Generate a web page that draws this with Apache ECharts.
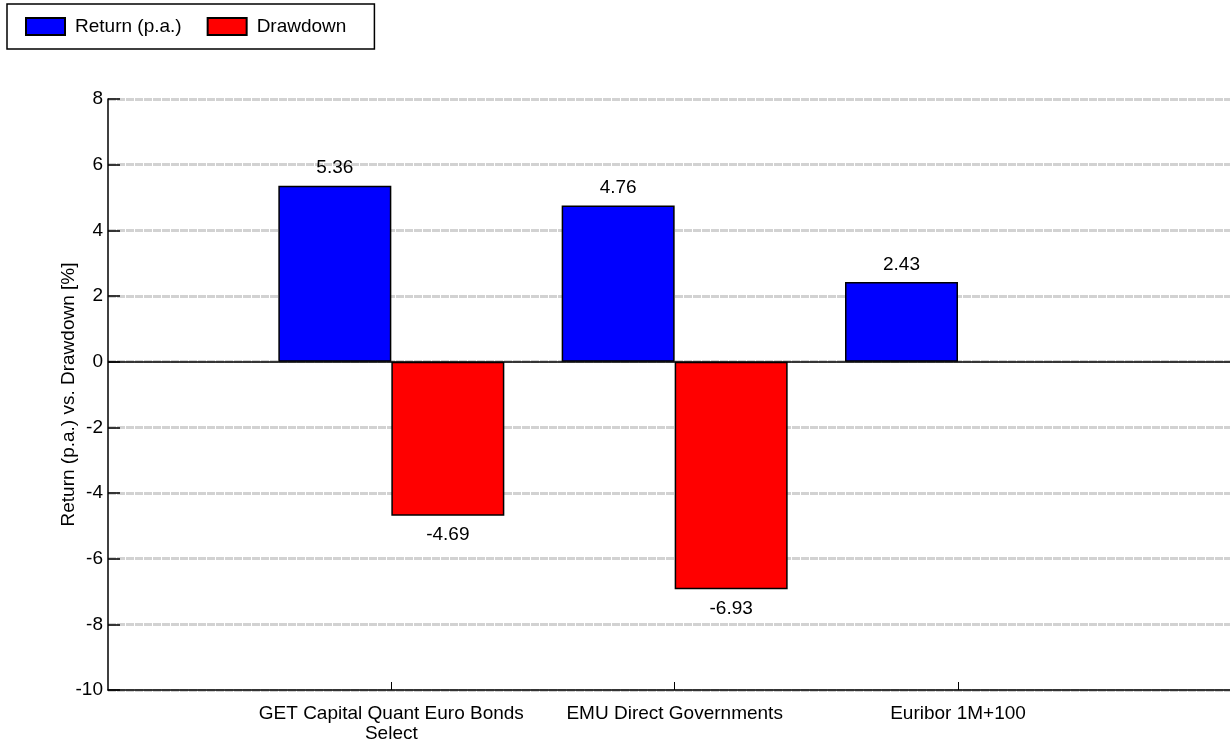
<!DOCTYPE html>
<html>
<head>
<meta charset="utf-8">
<script src="https://cdn.jsdelivr.net/npm/echarts@6/dist/echarts.min.js"></script>
<style>html,body{margin:0;padding:0;background:#fff}#c{width:1230px;height:744px}</style>
</head>
<body>
<div id="c"></div>
<script>
var categories = ['GET Capital Quant Euro Bonds\nSelect', 'EMU Direct Governments', 'Euribor 1M+100'];
var categoryPositions = [1, 2, 3];
var returnValues = [5.36, 4.76, 2.43];
var drawdownValues = [-4.69, -6.93, null];
var seriesNames = ['Return (p.a.)', 'Drawdown'];
var yTicks = [-10, -8, -6, -4, -2, 0, 2, 4, 6, 8];

var FONT = "'Liberation Sans', Arial, sans-serif";
var FS = 19;
var chart = echarts.init(document.getElementById('c'), null, {renderer: 'canvas'});

function pairs(vals) {
  return vals.map(function (v, i) { return [categoryPositions[i], v]; });
}

chart.setOption({
  animation: false,
  textStyle: {fontFamily: FONT},
  legend: {
    left: 7, top: 4,
    padding: [13, 28, 13, 18],
    borderColor: '#000', borderWidth: 1.5,
    icon: 'rect',
    itemWidth: 39, itemHeight: 17, itemGap: 25,
    textStyle: {fontFamily: FONT, fontSize: FS, color: '#000', padding: [0, 0, 0, 5]},
    data: seriesNames
  },
  grid: {left: 108, right: 0, top: 99, bottom: 54, containLabel: false},
  xAxis: {
    type: 'value', min: 0, max: 3.96,
    axisLine: {show: true, onZero: false, lineStyle: {color: '#000', width: 1.5}},
    axisTick: {show: true, inside: true, length: 8, customValues: categoryPositions, lineStyle: {color: '#000', width: 1}},
    axisLabel: {
      customValues: categoryPositions,
      margin: 14, fontSize: FS, color: '#000', fontFamily: FONT, lineHeight: 20,
      formatter: function (v) {
        var i = categoryPositions.indexOf(Math.round(v));
        return i >= 0 ? categories[i] : '';
      }
    },
    splitLine: {show: false}
  },
  yAxis: {
    type: 'value', min: -10, max: 8, interval: 2,
    name: 'Return (p.a.) vs. Drawdown [%]',
    nameLocation: 'middle', nameGap: 30, nameMoveOverlap: false,
    nameTextStyle: {fontSize: FS, color: '#000', fontFamily: FONT},
    axisLine: {show: true, onZero: false, lineStyle: {color: '#000', width: 1.5}},
    axisTick: {show: true, inside: true, length: 12, lineStyle: {color: '#000', width: 1.5}},
    axisLabel: {margin: 5, fontSize: FS, color: '#000', fontFamily: FONT,
      formatter: function (v) { return yTicks.indexOf(v) >= 0 ? String(v) : ''; }},
    splitLine: {show: true, lineStyle: {color: '#d2d2d2', width: 3, type: [8, 1]}}
  },
  series: [
    {
      name: seriesNames[0], type: 'bar',
      data: pairs(returnValues),
      barWidth: 113, barGap: '0%',
      itemStyle: {color: '#0000ff', borderColor: '#000', borderWidth: 1.5},
      label: {show: true, position: 'top', distance: 8, fontSize: FS, color: '#000', fontFamily: FONT,
        formatter: function (p) { return p.value[1].toFixed(2); }},
      markLine: {
        silent: true, symbol: ['none', 'none'],
        label: {show: false},
        lineStyle: {color: '#000', width: 1.5, type: 'solid'},
        data: [{yAxis: 0}]
      },
      z: 3
    },
    {
      name: seriesNames[1], type: 'bar',
      data: pairs(drawdownValues),
      barWidth: 113, barGap: '0%',
      itemStyle: {color: '#ff0000', borderColor: '#000', borderWidth: 1.5},
      label: {show: true, position: 'bottom', distance: 10, fontSize: FS, color: '#000', fontFamily: FONT,
        formatter: function (p) { return p.value[1] == null ? '' : p.value[1].toFixed(2); }},
      z: 3
    }
  ]
});
</script>
</body>
</html>
